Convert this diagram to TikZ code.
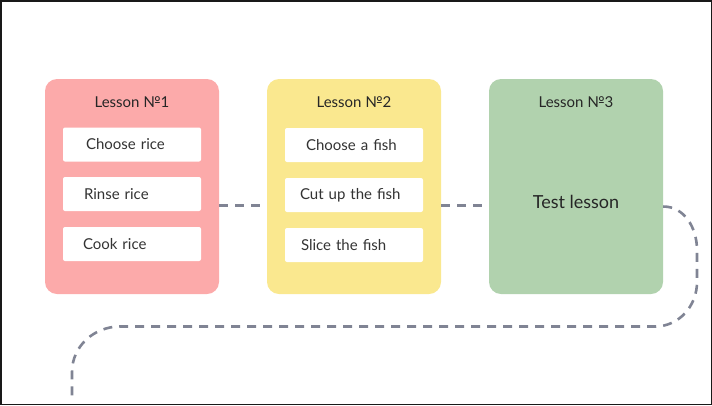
\documentclass[tikz,border=0pt]{standalone}
\usepackage{fontspec}
\setmainfont{Lato}
\usetikzlibrary{positioning}
\definecolor{pinkbox}{RGB}{252,170,170}
\definecolor{yellowbox}{RGB}{250,232,143}
\definecolor{greenbox}{RGB}{177,210,174}
\definecolor{trailgray}{RGB}{128,132,148}

\begin{document}
\begin{tikzpicture}[x=1pt,y=-1pt,
  lesson/.style={rounded corners=12pt,minimum width=174pt,minimum height=215pt,inner sep=0pt},
  title/.style={font=\fontsize{15}{18}\selectfont,text=black!85},
  stepbox/.style={fill=white,rounded corners=2pt,text width=100pt,inner xsep=19pt,minimum height=34pt,inner ysep=0pt,align=left,font=\fontsize{15}{18}\selectfont,text=black!80},
  trail/.style={draw=trailgray,line width=2.6pt,dash pattern=on 9pt off 7pt}]
\useasboundingbox (0,0) rectangle (712,405);
\draw[line width=1.5pt,black!90] (0.75,0.75) rectangle (711.25,404.25);

\node[lesson,fill=pinkbox] (l1) at (132,186.5) {};
\node[lesson,fill=yellowbox] (l2) at (354,186.5) {};
\node[lesson,fill=greenbox] (l3) at (576,186.5) {};

\node[title] (t1) at (132,102) {Lesson №1};
\node[title] (t2) at (354,102) {Lesson №2};
\node[title] (t3) at (576,102) {Lesson №3};

\node[stepbox] (s11) at (132,144.5) {\hspace{4pt}Choose rice};
\node[stepbox] (s12) at (132,194) {\hspace{2pt}Rinse rice};
\node[stepbox] (s13) at (132,244) {\hspace{1pt}Cook rice};
\node[stepbox] (s21) at (354,145) {\hspace{2pt}Choose a fish};
\node[stepbox] (s22) at (354,195) {\hspace{-4pt}Cut up the fish};
\node[stepbox] (s23) at (354,245) {\hspace{-3pt}Slice the fish};
\node[font=\fontsize{18}{21}\selectfont,text=black!85] (test) at (576,202) {Test lesson};

\coordinate (bend) at (697,282);
\coordinate (low) at (120,326.5);
\coordinate (end) at (72,399);

\draw[trail] ([yshift=-19pt]l1.east) -- ([yshift=-19pt]l2.west);
\draw[trail] ([yshift=-19pt]l2.east) -- ([yshift=-19pt]l3.west);
\draw[trail] ([yshift=-20pt]l3.east) to[out=0,in=90] (697,250) -- (bend)
  to[out=-90,in=0] (655,326.5) -- (low) to[out=180,in=90] (72,372) -- (end);
\end{tikzpicture}
\end{document}
